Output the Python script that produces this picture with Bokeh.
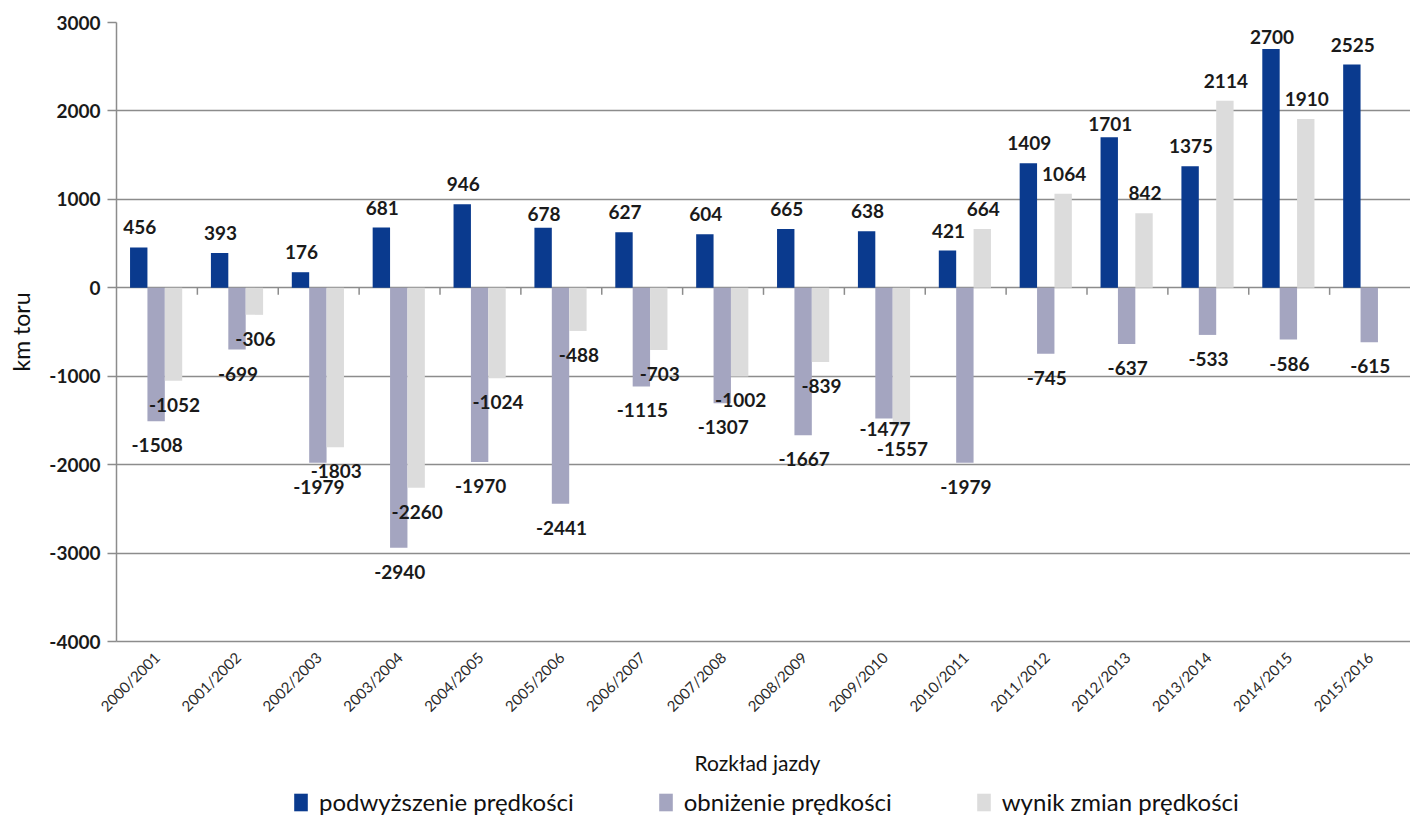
import math
import numpy as np
from bokeh.plotting import figure
from bokeh.layouts import column
from bokeh.models import (Range1d, FixedTicker, ColumnDataSource, LabelSet,
                          Legend, LegendItem, Label)
from bokeh.core.properties import value
from bokeh.embed import file_html
from bokeh.resources import INLINE

# ---------------- data ----------------
categories = ["2000/2001", "2001/2002", "2002/2003", "2003/2004", "2004/2005",
              "2005/2006", "2006/2007", "2007/2008", "2008/2009", "2009/2010",
              "2010/2011", "2011/2012", "2012/2013", "2013/2014", "2014/2015",
              "2015/2016"]
increase = [456, 393, 176, 681, 946, 678, 627, 604, 665, 638, 421, 1409, 1701,
            1375, 2700, 2525]
decrease = [-1508, -699, -1979, -2940, -1970, -2441, -1115, -1307, -1667, -1477,
            -1979, -745, -637, -533, -586, -615]
net = [-1052, -306, -1803, -2260, -1024, -488, -703, -1002, -839, -1557, 664,
       1064, 842, 2114, 1910, None]
series_names = ["podwyższenie prędkości", "obniżenie prędkości",
                "wynik zmian prędkości"]
y_ticks = [-4000, -3000, -2000, -1000, 0, 1000, 2000, 3000]
x_title = "Rozkład jazdy"
y_title = "km toru"

# ---------------- styling ----------------
colors = ["#0a3a8e", "#a4a5c0", "#dcdcdc"]
offsets = [-0.225, -0.01, 0.205]
bar_w = 0.215
grid_col = "#8c8c8c"
FONT = "Lato"
W = 1410
MAIN_H = 741
LEG_H = 820 - MAIN_H
FRAME_TOP = 22
FRAME_BOTTOM = 641

# per-label vertical nudges (px) where the original labels were moved by hand
nudges = {(0, 5): 14, (0, 12): 13, (0, 14): 12, (1, 9): -11}

p = figure(width=W, height=MAIN_H,
           x_range=Range1d(-0.5, len(categories) - 0.5),
           y_range=Range1d(y_ticks[0], y_ticks[-1]),
           output_backend="svg", toolbar_location=None,
           min_border_left=116, min_border_right=0, min_border_top=FRAME_TOP,
           min_border_bottom=MAIN_H - FRAME_BOTTOM)
p.outline_line_color = None
p.background_fill_color = "white"
p.border_fill_color = "white"
p.xgrid.visible = False
p.ygrid.grid_line_color = grid_col
p.ygrid.grid_line_width = 1.5
p.ygrid.ticker = FixedTicker(ticks=y_ticks)

# y axis
p.yaxis.ticker = FixedTicker(ticks=y_ticks)
p.yaxis.major_label_overrides = {t: str(t) for t in y_ticks}
p.yaxis.axis_line_color = grid_col
p.yaxis.axis_line_width = 1.5
p.yaxis.major_tick_line_color = grid_col
p.yaxis.major_tick_line_width = 1.5
p.yaxis.major_tick_out = 9
p.yaxis.major_tick_in = 0
p.yaxis.minor_tick_line_color = None
p.yaxis.major_label_standoff = 7
p.yaxis.major_label_text_font = FONT
p.yaxis.major_label_text_font_style = "bold"
p.yaxis.major_label_text_font_size = "19px"
p.yaxis.major_label_text_color = "#1a1a1a"
p.yaxis.axis_label = y_title
p.yaxis.axis_label_standoff = 11
p.yaxis.axis_label_text_font = FONT
p.yaxis.axis_label_text_font_style = "normal"
p.yaxis.axis_label_text_font_size = "23px"
p.yaxis.axis_label_text_color = "#111111"

# x axis
idx = np.arange(len(categories))
p.xaxis.ticker = FixedTicker(ticks=list(idx))
p.xaxis.major_label_overrides = {int(i): c for i, c in zip(idx, categories)}
p.xaxis.major_tick_out = 0
p.xaxis.major_tick_in = 0
p.xaxis.minor_tick_line_color = None
p.xaxis.axis_line_color = grid_col
p.xaxis.axis_line_width = 1.5
p.xaxis.major_label_orientation = math.pi / 4
p.xaxis.major_label_standoff = 13
p.xaxis.major_label_text_font = FONT
p.xaxis.major_label_text_font_size = "15px"
p.xaxis.major_label_text_color = "#2a2a2a"

# category boundary ticks on the zero line
bounds = idx[:-1] + 0.5
tick_len = 80
p.segment(x0=bounds, y0=0, x1=bounds, y1=-tick_len, line_color=grid_col,
          line_width=1.5)

# bars and labels
lx, ly, lt, lyo = [], [], [], []
for s, vals in enumerate([increase, decrease, net]):
    xs = [i + offsets[s] for i, v in zip(idx, vals) if v is not None]
    vs = [v for v in vals if v is not None]
    p.vbar(x=xs, top=vs, bottom=0, width=bar_w, fill_color=colors[s],
           line_color=None)
    for i, v in zip(idx, vals):
        if v is None:
            continue
        lx.append(i + offsets[s])
        ly.append(v)
        lt.append(str(v))
        base = 20 if v > 0 else -24
        lyo.append(nudges.get((s, int(i)), base))

src = ColumnDataSource(dict(x=lx, y=ly, text=lt, yo=lyo))
labels = LabelSet(x="x", y="y", text="text", source=src, y_offset="yo",
                  x_offset=1, text_align="center", text_baseline="middle",
                  text_font=value(FONT), text_font_style="bold",
                  text_font_size="19px", text_color="#1a1a1a")
p.add_layout(labels)

# ---------------- x title + legend strip ----------------
lf = figure(width=W, height=LEG_H, x_range=Range1d(0, 1), y_range=Range1d(0, 1),
            output_backend="svg", toolbar_location=None, min_border=0)
lf.axis.visible = False
lf.grid.visible = False
lf.outline_line_color = None
lf.border_fill_color = "white"
lf.background_fill_color = "white"

lf.add_layout(Label(x=641, y=58, x_units="screen", y_units="screen",
                    text=x_title, text_align="center", text_baseline="middle",
                    text_font=FONT, text_font_size="21px",
                    text_color="#111111"))

# legend proxies: a single zero-height bar outside the visible range
leg_r = [lf.vbar(x=[-5], top=[0], bottom=[0], width=0.1, fill_color=c,
                 line_color=None) for c in colors]
legend = Legend(items=[LegendItem(label=n, renderers=[r])
                       for n, r in zip(series_names, leg_r)],
                orientation="horizontal", location=(176, 4),
                glyph_width=17, glyph_height=22, label_standoff=10,
                spacing=83, padding=1, margin=0, border_line_color=None,
                background_fill_alpha=0,
                label_text_font=FONT, label_text_font_size="24px",
                label_text_color="#111111", label_height=22)
lf.add_layout(legend, "center")

layout = column(p, lf, spacing=0)
open("out.html", "w").write(file_html(layout, INLINE))
